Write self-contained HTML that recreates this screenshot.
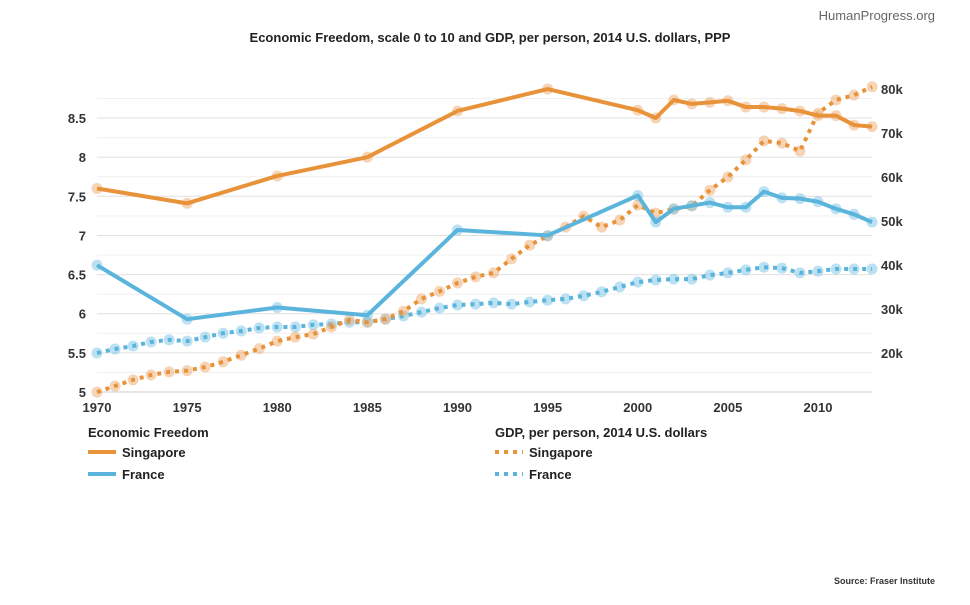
<!DOCTYPE html>
<html><head><meta charset="utf-8">
<style>
body{margin:0;background:#fff;width:970px;height:600px;overflow:hidden;font-family:"Liberation Sans",sans-serif;}
svg text{font-family:"Liberation Sans",sans-serif;}
</style></head>
<body>
<svg id="chart" width="970" height="600">
<text x="935" y="20" text-anchor="end" font-size="13" fill="#666">HumanProgress.org</text>
<text x="490" y="42" text-anchor="middle" font-size="13" font-weight="bold" fill="#222">Economic Freedom, scale 0 to 10 and GDP, per person, 2014 U.S. dollars, PPP</text>
<g id="grid"></g>
<g id="axes"></g>
<g id="series"></g>
<g>
<text x="88" y="437" font-size="13" font-weight="bold" fill="#222">Economic Freedom</text>
<line x1="88" y1="452" x2="116" y2="452" stroke="#e8923a" stroke-width="4"/>
<text x="122" y="457" font-size="13" font-weight="bold" fill="#222">Singapore</text>
<line x1="88" y1="474" x2="116" y2="474" stroke="#5ab4dc" stroke-width="4"/>
<text x="122" y="479" font-size="13" font-weight="bold" fill="#222">France</text>
<text x="495" y="437" font-size="13" font-weight="bold" fill="#222">GDP, per person, 2014 U.S. dollars</text>
<line x1="495" y1="452" x2="523" y2="452" stroke="#e8923a" stroke-width="4" stroke-dasharray="4,5"/>
<text x="529" y="457" font-size="13" font-weight="bold" fill="#222">Singapore</text>
<line x1="495" y1="474" x2="523" y2="474" stroke="#5ab4dc" stroke-width="4" stroke-dasharray="4,5"/>
<text x="529" y="479" font-size="13" font-weight="bold" fill="#222">France</text>
</g>
<text x="935" y="584" text-anchor="end" font-size="9" font-weight="bold" fill="#333">Source: Fraser Institute</text>
</svg>
<script>
const efYears=[1970,1975,1980,1985,1990,1995,2000,2001,2002,2003,2004,2005,2006,2007,2008,2009,2010,2011,2012,2013];
const efSingapore=[7.6,7.41,7.76,8.0,8.59,8.87,8.6,8.5,8.73,8.68,8.7,8.72,8.64,8.64,8.62,8.59,8.53,8.53,8.41,8.39];
const efFrance=[6.62,5.93,6.08,5.98,7.07,7.0,7.51,7.17,7.34,7.38,7.42,7.36,7.36,7.56,7.48,7.47,7.43,7.34,7.27,7.17];
const gdpYears=[1970,1971,1972,1973,1974,1975,1976,1977,1978,1979,1980,1981,1982,1983,1984,1985,1986,1987,1988,1989,1990,1991,1992,1993,1994,1995,1996,1997,1998,1999,2000,2001,2002,2003,2004,2005,2006,2007,2008,2009,2010,2011,2012,2013];
const gdpSingapore=[11100,12500,13900,15000,15700,16000,16800,18000,19500,21000,22700,23600,24300,25900,27500,27000,27700,29500,32300,34000,35900,37300,38200,41400,44500,46600,48600,51100,48600,50200,53600,51800,52700,53400,57000,60000,63900,68200,67700,65900,74500,77500,78600,80500];
const gdpFrance=[20000,20900,21600,22500,23000,22700,23600,24500,25000,25700,25900,25900,26400,26600,27000,27000,27700,28400,29300,30200,30900,31100,31400,31100,31600,32000,32300,33000,33900,35000,36100,36600,36800,36800,37700,38200,38900,39500,39300,38200,38600,39100,39100,39100];
const xTicks=[1970,1975,1980,1985,1990,1995,2000,2005,2010];
const leftTicks=[5,5.5,6,6.5,7,7.5,8,8.5];
const rightTicks=[20000,30000,40000,50000,60000,70000,80000];
const rightTickLabels=["20k","30k","40k","50k","60k","70k","80k"];

const NS="http://www.w3.org/2000/svg";
const x=y=>97+(y-1970)*18.025;
const yL=v=>392-(v-5)*78.28;
const yR=v=>353-(v-20000)/10000*44;
function mk(tag,attrs,parent){const e=document.createElementNS(NS,tag);for(const k in attrs)e.setAttribute(k,attrs[k]);parent.appendChild(e);return e;}
const grid=document.getElementById('grid'),axes=document.getElementById('axes'),series=document.getElementById('series');
for(let v=5.25;v<=8.75;v+=0.5){const l=mk('line',{x1:97,x2:872,y1:yL(v),y2:yL(v),stroke:'#f0f0f0','stroke-width':1},grid);

}
leftTicks.forEach(v=>{const l=mk('line',{x1:97,x2:872,y1:yL(v),y2:yL(v),stroke:v===5?'#ccc':'#e0e0e0','stroke-width':1},grid);


const t=mk('text',{x:86,y:yL(v)+5,'text-anchor':'end','font-size':13,'font-weight':'bold',fill:'#333'},axes);t.textContent=v;

});
rightTicks.forEach((v,i)=>{const t=mk('text',{x:881,y:yR(v)+5,'font-size':13,'font-weight':'bold',fill:'#333'},axes);t.textContent=rightTickLabels[i];

});
xTicks.forEach(v=>{const t=mk('text',{x:x(v),y:412,'text-anchor':'middle','font-size':13,'font-weight':'bold',fill:'#333'},axes);t.textContent=v;

});
function draw(xs,vs,sc,color,dashed,name){
const g=mk('g',{},series);


const light=color==='#e8923a'?'rgba(240,170,110,0.5)':'rgba(120,195,230,0.5)';
xs.forEach((yr,i)=>{const c=mk('circle',{cx:x(yr),cy:sc(vs[i]),r:5.5,fill:light},g);

});
const p=mk('polyline',{points:xs.map((yr,i)=>x(yr)+','+sc(vs[i])).join(' '),fill:'none',stroke:color,'stroke-width':4,'stroke-linejoin':'round'},g);
if(dashed)p.setAttribute('stroke-dasharray','4,5');

}
draw(gdpYears,gdpFrance,yR,'#5ab4dc',true,'gdp-france');
draw(gdpYears,gdpSingapore,yR,'#e8923a',true,'gdp-singapore');
draw(efYears,efFrance,yL,'#5ab4dc',false,'ef-france');
draw(efYears,efSingapore,yL,'#e8923a',false,'ef-singapore');
</script>
</body></html>
